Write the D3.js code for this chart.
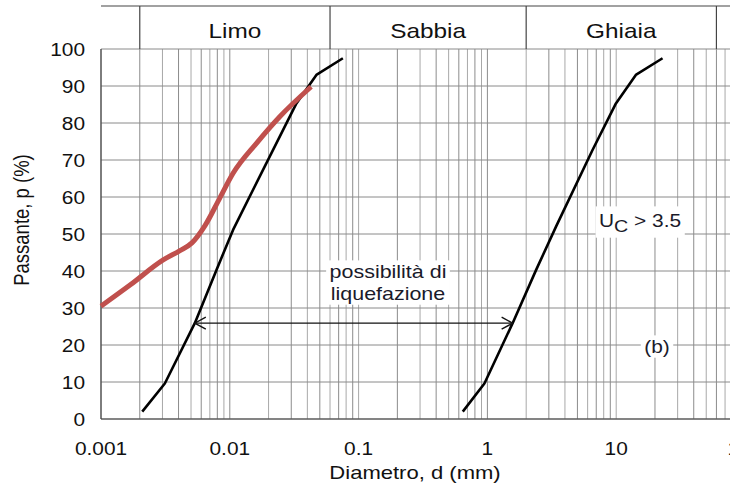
<!DOCTYPE html>
<html>
<head>
<meta charset="utf-8">
<script src="https://cdn.jsdelivr.net/npm/d3@7"></script>
<style>
  html, body { margin: 0; padding: 0; background: #fff; }
  svg { display: block; font-family: "Liberation Sans", Arial, sans-serif; }
</style>
</head>
<body>
<svg id="chart" width="730" height="486"></svg>
<script>
// DATA
var xTicks = [0.001, 0.01, 0.1, 1, 10, 100];
var xTickLabels = ['0.001', '0.01', '0.1', '1', '10', '100'];
var yTicks = [0, 10, 20, 30, 40, 50, 60, 70, 80, 90, 100];

var zoneNames = ['Limo', 'Sabbia', 'Ghiaia'];
var zoneBounds = [0.002, 0.06, 2, 60];

var fineD = [0.00209, 0.00313, 0.00535, 0.00788, 0.0106, 0.0192, 0.0329, 0.047, 0.0755];
var fineP = [2, 9.6, 25.9, 40.3, 51.1, 69.1, 85.3, 93, 97.5];

var coarseD = [0.644, 0.948, 1.57, 2.39, 3.41, 6.55, 9.95, 14.2, 22.9];
var coarseP = [2, 9.6, 25.9, 40.3, 52, 72.7, 85.3, 93, 97.5];

var redD = [0.001, 0.00168, 0.00304, 0.0041, 0.00508, 0.0064, 0.00836, 0.0106, 0.0161, 0.0244, 0.0428];
var redP = [30.5, 36.2, 43, 45.5, 47.6, 52.2, 59.7, 66.4, 74.5, 81.7, 89.8];

var arrowD = [0.00535, 1.57];
var arrowP = 25.9;

// SCALES (ABOUT 129 PX PER DECADE)
var x = d3.scaleLog().domain([0.001, 100]).range([101, 745]);
var y = d3.scaleLinear().domain([0, 100]).range([419, 49]);

// TEXTS IN THE PICTURE ARE A BIT WIDER THAN PLAIN ARIAL
var stretch = 1.16;

var svg = d3.select('#chart');

// HELPER: STRETCHED TEXT
function label(str, px, py, size, anchor) {
   return svg.append('text')
      .attr('transform', 'translate(' + px + ',' + py + ') scale(' + stretch + ',1)')
      .attr('text-anchor', anchor || 'middle')
      .attr('font-size', size)
      .attr('fill', '#111')
      .text(str);
}

// MINOR LOG GRID
var gridX = [];
for (var e = -3; e < 2; e++) {
   for (var m = 1; m < 10; m++) gridX.push(m * Math.pow(10, e));
}

svg.append('g').selectAll('line')
   .data(gridX).enter().append('line')
      .attr('x1', d => x(d)).attr('x2', d => x(d))
      .attr('y1', y(0)).attr('y2', y(100))
      .attr('stroke', (d, i) => (i % 2 ? '#8c8c8c' : '#a8a8a8'))
      .attr('stroke-width', 1);

// HORIZONTAL GRID
svg.append('g').selectAll('line')
   .data(yTicks).enter().append('line')
      .attr('x1', x(0.001)).attr('x2', 730)
      .attr('y1', d => y(d)).attr('y2', d => y(d))
      .attr('stroke', '#8a8a8a')
      .attr('stroke-width', 1);

// FRAME (LEFT + BOTTOM)
svg.append('line')
   .attr('x1', x(0.001)).attr('x2', x(0.001))
   .attr('y1', y(0)).attr('y2', y(100))
   .attr('stroke', '#444').attr('stroke-width', 1.2);
svg.append('line')
   .attr('x1', x(0.001)).attr('x2', 730)
   .attr('y1', y(0)).attr('y2', y(0))
   .attr('stroke', '#444').attr('stroke-width', 1.2);

// HEADER BAND WITH SOIL CLASSES
var headTop = 6;
svg.append('line')
   .attr('x1', x(0.001)).attr('x2', 730)
   .attr('y1', headTop).attr('y2', headTop)
   .attr('stroke', '#444').attr('stroke-width', 1.2);

svg.append('g').selectAll('line')
   .data(zoneBounds).enter().append('line')
      .attr('x1', d => x(d)).attr('x2', d => x(d))
      .attr('y1', headTop).attr('y2', y(100))
      .attr('stroke', '#444').attr('stroke-width', 1.2);

zoneNames.forEach((d, i) => {
   label(d, (x(zoneBounds[i]) + x(zoneBounds[i + 1])) / 2, 38, 21);
});

// AXIS LABELS
yTicks.forEach(d => label(d, 85, y(d) + 6.5, 18, 'end'));
xTicks.forEach((d, i) => label(xTickLabels[i], x(d), 454.5, 18));

label('Diametro, d (mm)', 415, 479, 19);

svg.append('text')
   .attr('transform', 'translate(29,220) rotate(-90) scale(1,' + stretch + ')')
   .attr('text-anchor', 'middle')
   .attr('font-size', 18.5)
   .attr('fill', '#111')
   .text('Passante, p (%)');

// CURVES
var straight = d3.line()
   .x(d => x(d[0]))
   .y(d => y(d[1]));

var smooth = d3.line()
   .x(d => x(d[0]))
   .y(d => y(d[1]))
   .curve(d3.curveMonotoneX);

svg.append('path')
   .attr('d', straight(fineD.map((d, i) => [d, fineP[i]])))
   .attr('fill', 'none').attr('stroke', '#000').attr('stroke-width', 2.6)
   .attr('stroke-linejoin', 'round');

svg.append('path')
   .attr('d', straight(coarseD.map((d, i) => [d, coarseP[i]])))
   .attr('fill', 'none').attr('stroke', '#000').attr('stroke-width', 2.6)
   .attr('stroke-linejoin', 'round');

svg.append('path')
   .attr('d', smooth(redD.map((d, i) => [d, redP[i]])))
   .attr('fill', 'none').attr('stroke', '#c0504d').attr('stroke-width', 5);

// DOUBLE ARROW
var ax1 = x(arrowD[0]), ax2 = x(arrowD[1]), ay = y(arrowP);
svg.append('line')
   .attr('x1', ax1).attr('x2', ax2).attr('y1', ay).attr('y2', ay)
   .attr('stroke', '#111').attr('stroke-width', 1.2);
svg.append('path')
   .attr('d', 'M' + (ax1 + 11) + ',' + (ay - 6) + 'L' + ax1 + ',' + ay + 'L' + (ax1 + 11) + ',' + (ay + 6))
   .attr('fill', 'none').attr('stroke', '#111').attr('stroke-width', 1.4);
svg.append('path')
   .attr('d', 'M' + (ax2 - 11) + ',' + (ay - 6) + 'L' + ax2 + ',' + ay + 'L' + (ax2 - 11) + ',' + (ay + 6))
   .attr('fill', 'none').attr('stroke', '#111').attr('stroke-width', 1.4);

// ANNOTATIONS WITH WHITE BOXES
function note(lines, cx, cy, lh, size) {
   var g = svg.append('g')
      .attr('transform', 'translate(' + cx + ',' + cy + ') scale(' + stretch + ',1)');
   var t = g.append('text')
      .attr('text-anchor', 'middle')
      .attr('font-size', size)
      .attr('fill', '#1a1a2a');
   lines.forEach((s, i) => {
      t.append('tspan').attr('x', 0).attr('y', i * lh).text(s);
   });
   var b = t.node().getBBox();
   g.insert('rect', 'text')
      .attr('x', b.x - 3).attr('y', b.y - 1)
      .attr('width', b.width + 6).attr('height', b.height + 2)
      .attr('fill', '#fff');
}

note(['possibilità di', 'liquefazione'], 388, 278, 22, 18.5);
note(['(b)'], 657, 353, 20, 18);

// UC > 3.5
var ug = svg.append('g')
   .attr('transform', 'translate(599,227) scale(' + stretch + ',1)');
var ut = ug.append('text')
   .attr('font-size', 18)
   .attr('fill', '#1a1a2a');
ut.append('tspan').text('U');
ut.append('tspan').attr('dy', 5).attr('font-size', 17).text('C');
ut.append('tspan').attr('dy', -5).text(' > 3.5');
var ub = ut.node().getBBox();
ug.insert('rect', 'text')
   .attr('x', ub.x - 3).attr('y', ub.y - 4)
   .attr('width', ub.width + 6).attr('height', ub.height + 6)
   .attr('fill', '#fff');
</script>
</body>
</html>
